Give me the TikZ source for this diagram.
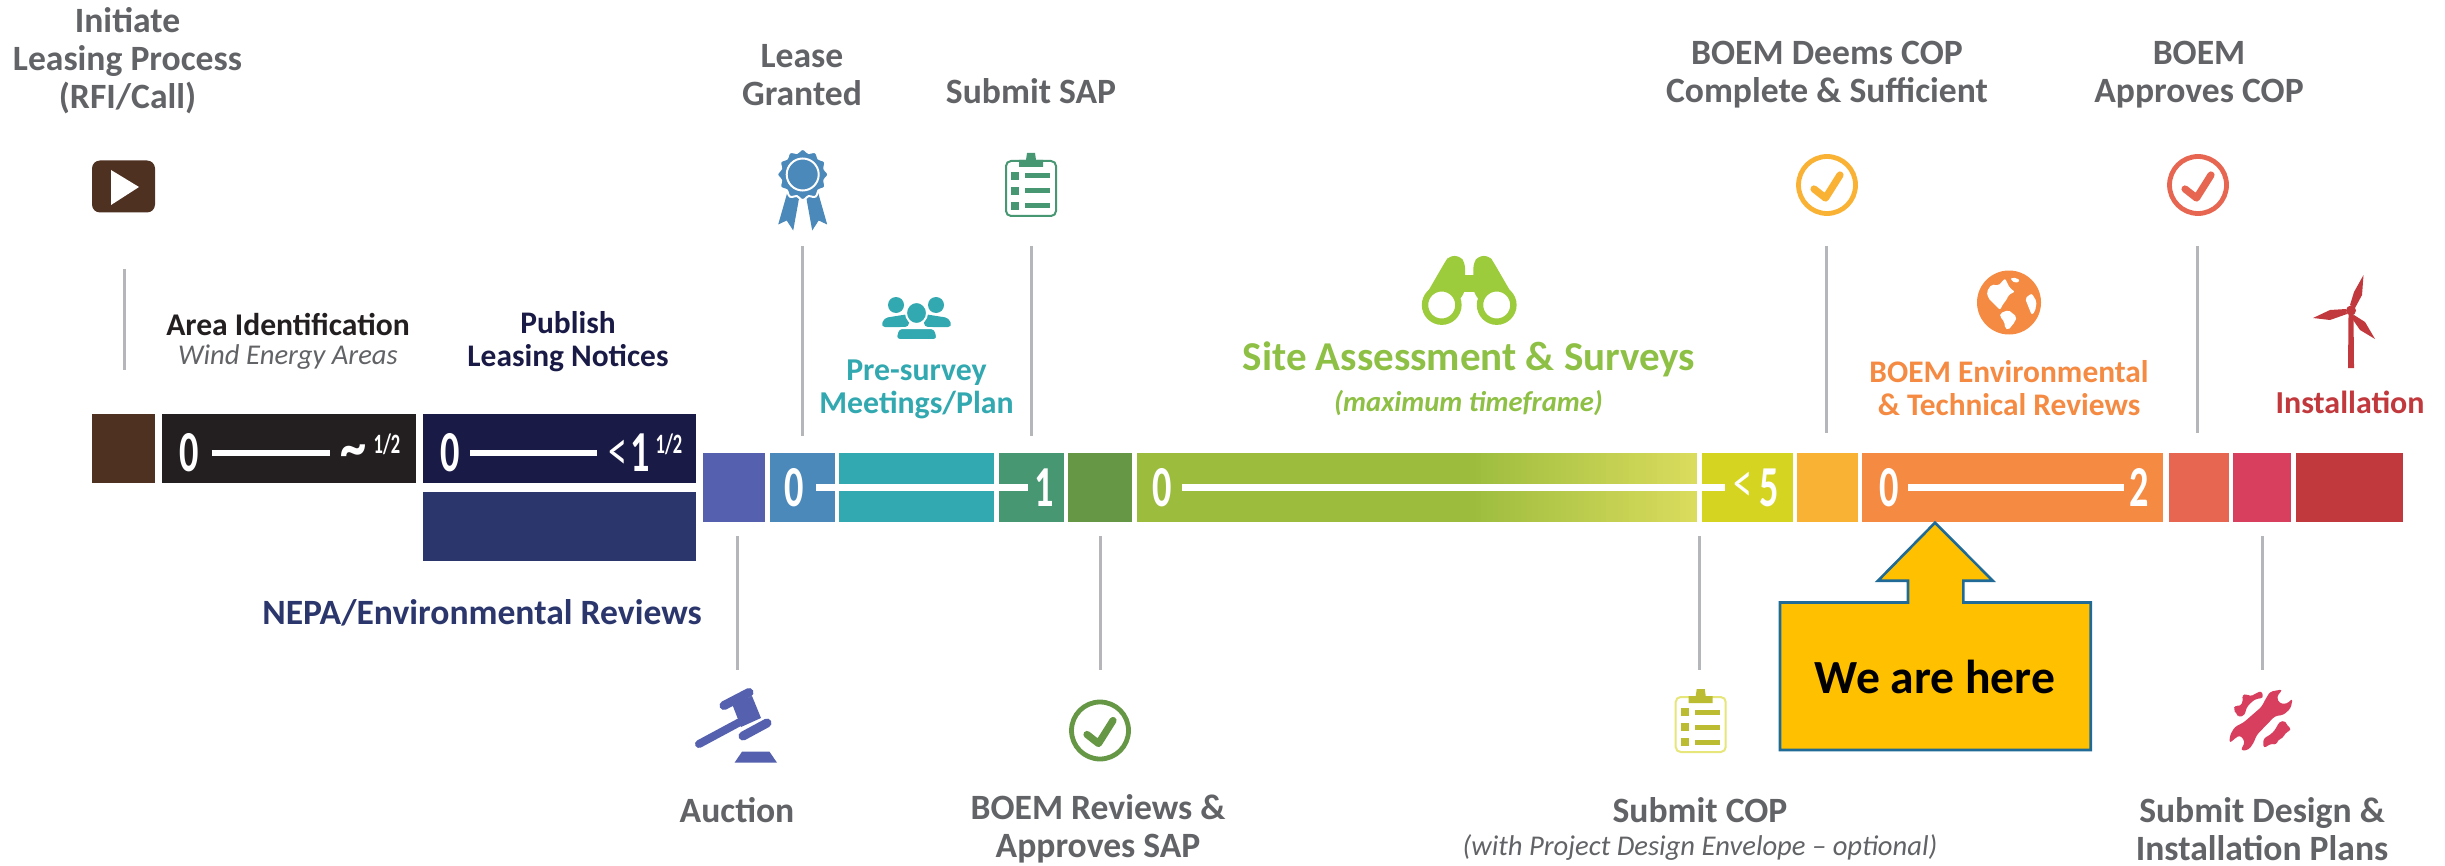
\documentclass[tikz,border=0pt]{standalone}
\usepackage{fontspec}
\usepackage{graphicx}
\setmainfont{Carlito}
\definecolor{cBrown}{HTML}{4F3122}
\definecolor{cBlack}{HTML}{231F20}
\definecolor{cNavy}{HTML}{1A1A46}
\definecolor{cNavyB}{HTML}{2B366C}
\definecolor{cPurple}{HTML}{5561AE}
\definecolor{cBlue}{HTML}{4A89BA}
\definecolor{cTeal}{HTML}{32A9B0}
\definecolor{cGreen}{HTML}{469772}
\definecolor{cDkGreen}{HTML}{659745}
\definecolor{cLime}{HTML}{9CBC3E}
\definecolor{cLimeEnd}{HTML}{DBDC5D}
\definecolor{cYellow}{HTML}{D5D521}
\definecolor{cAmber}{HTML}{F9B233}
\definecolor{cOrange}{HTML}{F58A42}
\definecolor{cCoral}{HTML}{E66652}
\definecolor{cPink}{HTML}{D83F5E}
\definecolor{cRed}{HTML}{C1393D}
\definecolor{cGrey}{HTML}{626366}
\definecolor{cRule}{HTML}{B4B6BA}
\definecolor{cGreenTxt}{HTML}{8DC044}
\definecolor{cBinoc}{HTML}{9CCB3C}
\definecolor{cCall}{HTML}{FFC000}
\definecolor{cCallB}{HTML}{1F6A96}
\tikzset{
  x=0.5pt,y=-0.5pt,
  lead/.style={draw=cRule,line width=1.5pt},
  tick/.style={draw=white,line width=3.2pt},
  lbl/.style={inner sep=0pt,align=center,font=\bfseries\fontsize{15.7}{16.5}\selectfont},
  greylbl/.style={inner sep=0pt,align=center,text=cGrey,font=\bfseries\fontsize{17.8}{19.1}\selectfont},
  numlbl/.style={inner sep=0pt,text=white,font=\bfseries\fontsize{29}{29}\selectfont},
  thinlbl/.style={inner sep=0pt,text=white,font=\fontsize{29}{29}\selectfont},
  suplbl/.style={inner sep=0pt,text=white,font=\bfseries\fontsize{14}{14}\selectfont},
}
\newcommand{\segbar}[6]{\fill[#6] (#1,#3) rectangle (#2,#4) coordinate (#5);}
\newcommand{\leadln}[4]{\coordinate (#1a) at (#2,#3);\coordinate (#1b) at (#2,#4);\draw[lead] (#1a)--(#1b);}
\newcommand{\numtxt}[1]{\scalebox{0.66}[1]{#1}}
\newcommand{\clipicon}[5]{%
 \begin{scope}[shift={(#1,#2)}]
  \draw[#4,line width=1pt,rounded corners=2.5pt] (-25,-24) rectangle (25,31);
  \fill[#3] (-12,-18) -- (-12,-25) -- (-5,-25) -- (-4,-32) -- (4,-32) -- (5,-25) -- (12,-25) -- (12,-18) -- cycle;
  \foreach \yy in {-9,6,21}{
   \fill[#3] (-20,\yy-4) rectangle (-12,\yy+4);
   \fill[#3] (-6,\yy-2.5) rectangle (19,\yy+2.5);}
 \end{scope}}
\newcommand{\checkicon}[3]{%
 \begin{scope}[shift={(#1,#2)}]
  \draw[#3,line width=2.4pt] (0,0) circle [radius=28.5];
  \draw[#3,line width=3.6pt,line cap=round,line join=round] (-13,4) -- (-1.5,13) -- (13,-10);
 \end{scope}}
\begin{document}
\begin{tikzpicture}
\useasboundingbox (0,0) rectangle (2445,866);
\fill[white] (0,0) rectangle (2445,866);
% ---- bars
\segbar{92}{155}{414}{483}{bBrown}{cBrown}
\segbar{162}{416}{414}{483}{bBlack}{cBlack}
\segbar{423}{696}{414}{483}{bNavy}{cNavy}
\segbar{423}{696}{492}{561}{bNavyB}{cNavyB}
\segbar{702.5}{765}{453}{522}{bPurple}{cPurple}
\segbar{769.5}{834.5}{453}{522}{bBlue}{cBlue}
\segbar{839}{994}{453}{522}{bTeal}{cTeal}
\segbar{999}{1063.5}{453}{522}{bGreen}{cGreen}
\segbar{1068}{1132}{453}{522}{bDkGreen}{cDkGreen}
\fill[cLime] (1137,453) rectangle (1470,522);
\foreach \st in {0,...,39}{
  \pgfmathsetmacro{\xa}{1470+\st*5.675}
  \pgfmathsetmacro{\xb}{1470+(\st+1)*5.675+(\st<39?0.6:0)}
  \pgfmathsetmacro{\pct}{(\st+0.5)*2.5}
  \fill[cLimeEnd!\pct!cLime] (\xa,453) rectangle (\xb,522);
}
\coordinate (bLime) at (1697,522);
\segbar{1702}{1792.5}{453}{522}{bYellow}{cYellow}
\segbar{1797}{1858}{453}{522}{bAmber}{cAmber}
\segbar{1862}{2163}{453}{522}{bOrange}{cOrange}
\segbar{2168.5}{2229}{453}{522}{bCoral}{cCoral}
\segbar{2232.5}{2291}{453}{522}{bPink}{cPink}
\segbar{2296}{2403}{453}{522}{bRed}{cRed}
% ---- ticks
\coordinate (t1a) at (211.5,453);\coordinate (t1b) at (329.5,453);\draw[tick] (t1a)--(t1b);
\coordinate (t2a) at (470,453);\coordinate (t2b) at (597,453);\draw[tick] (t2a)--(t2b);
\coordinate (t3a) at (816,487.5);\coordinate (t3b) at (1028,487.5);\draw[tick] (t3a)--(t3b);
\coordinate (t4a) at (1182,487.5);\coordinate (t4b) at (1725,487.5);\draw[tick] (t4a)--(t4b);
\coordinate (t5a) at (1908,487.5);\coordinate (t5b) at (2124,487.5);\draw[tick] (t5a)--(t5b);
% ---- numbers
\node[numlbl] (n1) at (189,453) {\numtxt{0}};
\node[numlbl] (n2) at (353,457) {\scalebox{0.9}[1.1]{\char"007E}};
\node[suplbl] (n3) at (387,444) {\numtxt{1/2}};
\node[numlbl] (n4) at (450,453) {\numtxt{0}};
\node[thinlbl] (n5) at (618,455) {\numtxt{<}};
\node[numlbl] (n6) at (640,453) {\numtxt{1}};
\node[suplbl] (n7) at (669,444) {\numtxt{1/2}};
\node[numlbl] (n8) at (794,487.5) {\numtxt{0}};
\node[numlbl] (n9) at (1044,487.5) {\numtxt{1}};
\node[numlbl] (n10) at (1162,487.5) {\numtxt{0}};
\node[thinlbl] (n11) at (1743,487.5) {\numtxt{<}};
\node[numlbl] (n12) at (1769,487.5) {\numtxt{5}};
\node[numlbl] (n13) at (1889,487.5) {\numtxt{0}};
\node[numlbl] (n14) at (2139,487.5) {\numtxt{2}};
% ---- leaders
\leadln{l1}{124}{269}{370}
\leadln{l2}{802.5}{246}{436}
\leadln{l3}{1031}{246}{436}
\leadln{l4}{1826.5}{246}{433}
\leadln{l5}{2197.5}{246}{433}
\leadln{l6}{737}{536}{670}
\leadln{l7}{1100}{536}{670}
\leadln{l8}{1699.5}{536}{670}
\leadln{l9}{2262}{536}{670}
% ---- labels
\node[greylbl] (tInit) at (127.5,60.5) {Initiate\\Leasing Process\\(RFI/Call)};
\node[greylbl] (tLease) at (802,75) {Lease\\Granted};
\node[greylbl] (tSap) at (1031,91) {Submit SAP};
\node[greylbl] (tDeems) at (1827,75) {BOEM Deems COP\\Complete \& Sufficient};
\node[greylbl] (tAppr) at (2199,75) {BOEM\\Approves COP};
\node[lbl,text=cBlack,font=\bfseries\fontsize{15.8}{17}\selectfont] (tArea) at (288,325) {Area Identification};
\node[inner sep=0pt,text=cGrey,font=\itshape\fontsize{14.3}{17}\selectfont] (tWind) at (288,357) {Wind Energy Areas};
\node[lbl,text=cNavy] (tPub) at (568,342) {Publish\\Leasing Notices};
\node[lbl,text=cTeal,font=\bfseries\fontsize{15.9}{16.5}\selectfont] (tPre) at (916.5,389) {Pre-survey\\Meetings/Plan};
\node[lbl,text=cGreenTxt,font=\bfseries\fontsize{20.5}{21}\selectfont] (tSite) at (1469,359) {Site Assessment \& Surveys};
\node[inner sep=0pt,text=cGreenTxt,font=\bfseries\itshape\fontsize{14.3}{16}\selectfont] (tMax) at (1468.5,403) {(maximum timeframe)};
\node[lbl,text=cOrange] (tEnv) at (2009,388) {BOEM Environmental\\\& Technical Reviews};
\node[lbl,text=cRed,font=\bfseries\fontsize{16}{17}\selectfont] (tInst) at (2350,402) {Installation};
\node[greylbl,text=cNavyB] (tNepa) at (482,613) {NEPA/Environmental Reviews};
\node[greylbl] (tAuc) at (737,810) {Auction};
\node[greylbl] (tRev) at (1098,829) {BOEM Reviews \&\\Approves SAP};
\node[greylbl] (tCop) at (1700,810) {Submit COP};
\node[inner sep=0pt,text=cGrey,font=\itshape\fontsize{14.3}{17}\selectfont] (tEnv2) at (1700,847) {(with Project Design Envelope – optional)};
\node[greylbl] (tDes) at (2262,829) {Submit Design \&\\Installation Plans};
% ---- play icon
\fill[cBrown,rounded corners=4pt] (92,160.5) rectangle (155,212.5);
\fill[white] (111,170) -- (139,187) -- (111,205) -- cycle;
% ---- ribbon
\begin{scope}[shift={(802.7,174.5)}]
 \fill[cBlue] (-14.5,15) -- (-24.5,50) -- (-16,46) -- (-9.5,56) -- (-3,20) -- cycle;
 \fill[cBlue] (14.5,15) -- (24.5,50) -- (16,46) -- (9.5,56) -- (3,20) -- cycle;
 \draw[white,line width=1pt,fill=cBlue] plot[smooth cycle,domain=0:355,samples=72] ({cos(\x)*(24+1.6*cos(12*\x))},{sin(\x)*(24+1.6*cos(12*\x))});
 \draw[white,line width=1pt] (0,0) circle [radius=16];
\end{scope}
% ---- clipboards
\clipicon{1031}{185}{cGreen}{cGreen}{}
\clipicon{1700.7}{721}{cYellow!85!black!90}{cYellow!60!white}{}
% ---- people
\begin{scope}[cTeal]
 \fill (896,305) ellipse [x radius=8,y radius=8];
 \fill (936,305) ellipse [x radius=8,y radius=8];
 \fill[rounded corners=2pt] (881,327) -- (884,318) -- (909,314) -- (909,327) -- cycle;
 \fill[rounded corners=2pt] (952,327) -- (949,318) -- (924,314) -- (924,327) -- cycle;
 \draw[white,line width=1pt,fill=cTeal] (916.5,313) ellipse [x radius=10.5,y radius=11];
 \draw[white,line width=1pt,fill=cTeal,rounded corners=2pt] (895.5,340) -- (898,328) -- (935,328) -- (938,340) -- cycle;
\end{scope}
% ---- binoculars
\begin{scope}[cBinoc]
 \fill[rounded corners=2.5pt] (1423,300) -- (1445,262) -- (1449,256) -- (1460,256) -- (1465,263) -- (1465,292) -- (1455,306) -- cycle;
 \fill[rounded corners=2.5pt] (1515.4,300) -- (1493.4,262) -- (1489.4,256) -- (1478.4,256) -- (1473.4,263) -- (1473.4,292) -- (1483.4,306) -- cycle;
 \fill (1463,275) rectangle (1476,292);
 \draw[line width=3.2pt,fill=white] (1441.7,305) circle [radius=16.7];
 \draw[line width=3.2pt,fill=white] (1496.7,305) circle [radius=16.7];
\end{scope}
% ---- check icons
\checkicon{1827}{185}{cAmber}
\checkicon{2198}{185}{cCoral}
\checkicon{1100}{730.5}{cDkGreen}
% ---- globe
\fill[cOrange] (2009,302.5) circle [radius=32];
\begin{scope}[shift={(1965,265)},x=0.1667pt,y=-0.1667pt]
 \fill[white,rounded corners=1pt] (65,80) -- (80,58) -- (100,62) -- (120,40) -- (135,70) -- (150,80) -- (130,90) -- (125,105) -- (115,115) -- (105,135) -- (85,115) -- (70,100) -- cycle;
 \fill[white,rounded corners=1pt] (105,145) -- (130,135) -- (155,155) -- (150,170) -- (130,195) -- (120,190) -- (118,170) -- (105,155) -- cycle;
 \fill[white,rounded corners=1pt] (180,100) -- (200,85) -- (215,110) -- (210,140) -- (200,150) -- (190,125) -- cycle;
 \fill[white,rounded corners=1pt] (135,40) -- (155,38) -- (165,48) -- (150,55) -- cycle;
\end{scope}
% ---- turbine
\fill[cRed] (2348.5,314) -- (2353.5,314) -- (2354,368) -- (2348,368) -- cycle;
\fill[cRed] (2351,310.5) circle [radius=5];
\fill[cRed] (2350,305) -- (2354,292) -- (2363.5,275) -- (2362,295) -- (2355,308) -- cycle;
\fill[cRed] (2346,309) -- (2330,310) -- (2313,318) -- (2330,320) -- (2347,314) -- cycle;
\fill[cRed] (2354,315) -- (2365,322) -- (2375,339) -- (2360,330) -- (2351,317) -- cycle;
% ---- gavel
\begin{scope}[cPurple]
 \draw[line width=4.5pt,line cap=round] (724,705.5) -- (749,692.5);
 \draw[line width=4.5pt,line cap=round] (743,736) -- (767,723);
 \fill (732.5,705) -- (752,696) -- (761,718) -- (741,727) -- cycle;
 \draw[line width=4pt,line cap=round] (739,722.5) -- (699,744);
 \fill (742,751.7) -- (769.5,751.7) -- (777,762.7) -- (734.5,762.7) -- cycle;
\end{scope}
% ---- wrench
\begin{scope}[shift={(2220,680)},x=0.1667pt,y=-0.1667pt]
 \fill[cPink,rounded corners=1.5pt] (135,60) -- (150,35) -- (188,28) -- (170,50) -- (178,70) -- (200,72) -- (218,55) -- (212,85) -- (190,105) -- (165,108) -- (110,165) -- (100,190) -- (85,210) -- (62,212) -- (75,185) -- (60,165) -- (45,175) -- (28,190) -- (30,165) -- (45,140) -- (70,128) -- (125,80) -- cycle;
 \fill[cPink,rounded corners=1.5pt] (40,90) -- (45,75) -- (60,80) -- (70,60) -- (65,45) -- (80,42) -- (90,50) -- (108,40) -- (125,32) -- (130,55) -- (112,55) -- (95,65) -- (78,85) -- (75,105) -- (55,112) -- (50,100) -- cycle;
 \fill[cPink,rounded corners=1.5pt] (130,175) -- (150,165) -- (165,150) -- (178,125) -- (195,122) -- (200,135) -- (215,148) -- (195,160) -- (188,175) -- (172,180) -- (170,195) -- (155,190) -- (130,205) -- cycle;
\end{scope}
% ---- callout
\draw[fill=cCall,draw=cCallB,line width=1.3pt] (1780,602.5) -- (1908,602.5) -- (1908,580.7) -- (1878,580.7) -- (1935,522.7) -- (1992.7,580.7) -- (1963.3,580.7) -- (1963.3,602.5) -- (2090.7,602.5) -- (2090.7,750) -- (1780,750) -- cycle;
\node[inner sep=0pt,text=black,font=\bfseries\fontsize{23.8}{25}\selectfont] (tHere) at (1935,677) {We are here};
\end{tikzpicture}
\end{document}
